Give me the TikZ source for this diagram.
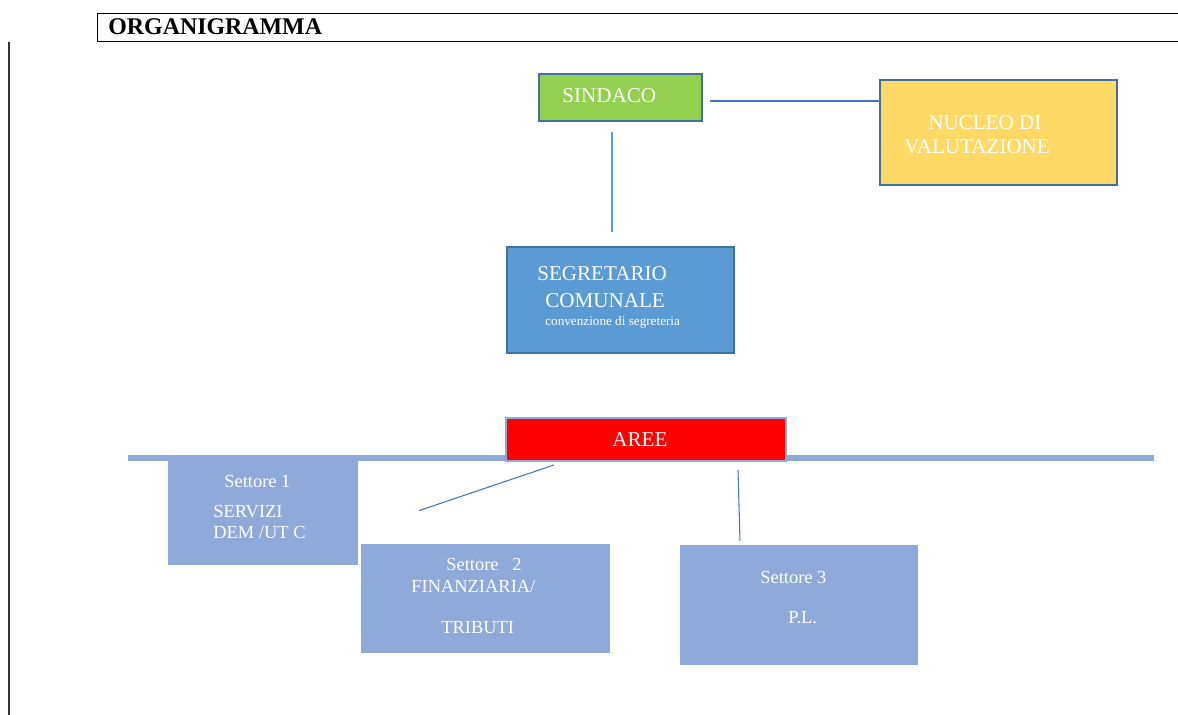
\documentclass[tikz,border=0pt]{standalone}
\usepackage{fontspec}
\setmainfont{Liberation Serif}
\usetikzlibrary{fit,calc}

\definecolor{sindgreen}{RGB}{146,208,80}
\definecolor{nucgold}{RGB}{255,217,102}
\definecolor{segblue}{RGB}{91,155,213}
\definecolor{settblue}{RGB}{142,170,219}
\definecolor{edgeblue}{RGB}{65,113,156}
\definecolor{linkblue}{RGB}{68,114,196}

\begin{document}
\begin{tikzpicture}[x=0.02cm, y=-0.02cm,
  box/.style={draw=edgeblue, line width=1.1pt, inner sep=0pt},
  settore/.style={fill=settblue, inner sep=0pt},
  lbl/.style={anchor=base west, inner sep=0pt, text=white, font=\fontsize{12}{14}\selectfont},
  lblsmall/.style={lbl, font=\fontsize{10.5}{12}\selectfont},
  conn/.style={draw=linkblue, line width=0.6pt}]

\useasboundingbox (0,0) rectangle (1178,715);

 % heading
\draw[line width=0.5pt] (1180,13) -- (97,13) -- (97,41) -- (1180,41);
\node[anchor=base west, inner sep=0pt, font=\fontsize{13.6}{15}\selectfont\bfseries] (title) at (108,35) {ORGANIGRAMMA};
\draw[line width=0.8pt, black!80] (9,42) -- (9,715);

 % top boxes
\node[box, fill=sindgreen, fit={(539,74) (702,121)}] (sindaco) {};
\node[box, fill=nucgold, fit={(880,80) (1117,185)}] (nucleo) {};
\node[box, fill=segblue, fit={(507,247) (734,353)}] (segretario) {};
\node[lbl] at (562,103) {SINDACO};
\node[lbl] at (928,130) {NUCLEO DI};
\node[lbl] at (904,154) {VALUTAZIONE};
\node[lbl] at (537,281) {SEGRETARIO};
\node[lbl] at (545,308) {COMUNALE};
\node[lbl, font=\fontsize{7.5}{9}\selectfont] at (545,326) {convenzione di segreteria};

\coordinate (sn) at ($(sindaco.east)+(7,3.5)$);
\draw[conn] (sn) -- (sn -| nucleo.west);
\draw[conn, draw=segblue] ($(sindaco.south)+(-8.5,10)$) -- ($(segretario.north)+(-8.5,-14)$);

 % aree
\fill[settblue] (128,455) rectangle (1154,461);
\node[draw=settblue, fill=red, line width=1.1pt, inner sep=0pt, fit={(506,418) (786,461)}] (aree) {};
\node[lbl] at (612,447) {AREE};

 % settori
\node[settore, fit={(168,461) (358,565)}] (settore1) {};
\node[settore, fit={(361,544) (610,653)}] (settore2) {};
\node[settore, fit={(680,545) (918,665)}] (settore3) {};
\node[lblsmall] at (224,488) {Settore 1};
\node[lblsmall] at (213,518) {SERVIZI};
\node[lblsmall] at (213,539) {DEM /UT C};
\node[lblsmall] at (446,571) {Settore\ \ \ 2};
\node[lblsmall] at (411,593) {FINANZIARIA/};
\node[lblsmall] at (441,634) {TRIBUTI};
\node[lblsmall] at (760,584) {Settore 3};
\node[lblsmall] at (788,624) {P.L.};

\coordinate (s2end) at ($(settore2.north)+(-66.5,-33)$);
\draw[conn] ($(aree.south)+(-92,3)$) -- (s2end);
\draw[conn] ($(aree.south)+(92,8)$) -- ($(settore3.north)+(-59,-4)$);
\end{tikzpicture}
\end{document}
